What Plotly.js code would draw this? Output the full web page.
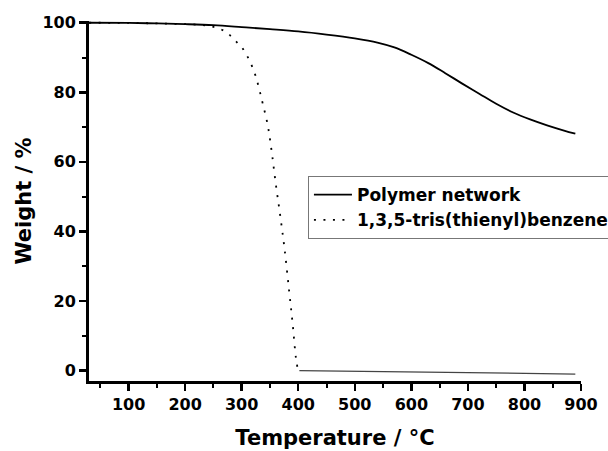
<!DOCTYPE html>
<html>
<head>
<meta charset="utf-8">
<script src="https://cdn.plot.ly/plotly-3.0.1.min.js"></script>
<style>html,body{margin:0;padding:0;background:#fff;}#chart{width:608px;height:451px;}</style>
</head>
<body>
<div id="chart"></div>
<script>
// Polymer network TGA curve
var polyT = [30, 100, 150, 200, 250, 300, 350, 400, 450, 500, 540, 570, 600, 630, 660, 690, 720, 750, 780, 810, 840, 870, 890];
var polyW = [100, 99.95, 99.8, 99.6, 99.3, 98.75, 98.15, 97.5, 96.6, 95.5, 94.3, 92.9, 90.8, 88.4, 85.5, 82.5, 79.6, 76.7, 74.2, 72.2, 70.5, 69.0, 68.1];

// 1,3,5-tris(thienyl)benzene TGA curve (decomposition part)
var tbT = [30, 100, 150, 200, 226, 245, 261, 275, 284, 292, 299, 306, 313, 319, 325, 331, 337, 346, 353, 360, 368, 376, 384, 390, 396, 399];
var tbW = [100, 99.95, 99.8, 99.6, 99.4, 99.0, 98.3, 97.0, 95.6, 94.3, 93.2, 91.5, 89.4, 87.2, 84.5, 80.9, 76.9, 70.6, 63.0, 54.0, 44.7, 34.7, 22.7, 13.6, 3.5, 0.6];

// residue after decomposition
var tbTailT = [402, 450, 500, 550, 600, 650, 700, 750, 800, 850, 890];
var tbTailW = [0.0, -0.1, -0.2, -0.3, -0.45, -0.55, -0.65, -0.75, -0.85, -0.95, -1.0];

var seriesNames = ["Polymer network", "1,3,5-tris(thienyl)benzene"];
var xTicks = [100, 200, 300, 400, 500, 600, 700, 800, 900];
var yTicks = [0, 20, 40, 60, 80, 100];

var FONT = "DejaVu Sans, Liberation Sans, Arial, sans-serif";

var traces = [
  {x: polyT, y: polyW, name: seriesNames[0], mode: "lines",
   line: {color: "#000", width: 1.8, shape: "spline"}},
  {x: tbT, y: tbW, name: seriesNames[1], mode: "lines",
   line: {color: "#000", width: 1.8, dash: "2px,7.5px", shape: "spline"}},
  {x: tbTailT, y: tbTailW, name: seriesNames[1], mode: "lines", showlegend: false,
   line: {color: "#444", width: 1.3}}
];

var layout = {
  width: 608, height: 451,
  margin: {l: 89, r: 27, t: 21, b: 70, autoexpand: false},
  paper_bgcolor: "#fff", plot_bgcolor: "#fff",
  showlegend: true,
  font: {family: FONT, color: "#000"},
  xaxis: {
    range: [30, 900], tickmode: "array", tickvals: xTicks,
    showgrid: false, zeroline: false,
    showline: true, linecolor: "#000", linewidth: 3,
    ticks: "outside", ticklen: 7, tickwidth: 2.5, tickcolor: "#000",
    minor: {dtick: 50, tick0: 0, ticks: "outside", ticklen: 4, tickwidth: 2, tickcolor: "#000", showgrid: false},
    tickfont: {family: FONT, size: 16, weight: "bold", color: "#000"},
    title: {text: "Temperature / °C", font: {family: FONT, size: 21, weight: "bold", color: "#000"}, standoff: 18},
    automargin: false
  },
  yaxis: {
    range: [-3, 100.5], tickmode: "array", tickvals: yTicks,
    showgrid: false, zeroline: false,
    showline: true, linecolor: "#000", linewidth: 3,
    ticks: "outside", ticklen: 7, tickwidth: 2.5, tickcolor: "#000",
    minor: {dtick: 10, tick0: 0, ticks: "outside", ticklen: 4, tickwidth: 2, tickcolor: "#000", showgrid: false},
    tickfont: {family: FONT, size: 16, weight: "bold", color: "#000"},
    title: {text: "Weight / %", font: {family: FONT, size: 21, weight: "bold", color: "#000"}, standoff: 6},
    automargin: false
  },
  legend: {
    x: 0.445, y: 0.569, xanchor: "left", yanchor: "top",
    bgcolor: "#fff", bordercolor: "#777", borderwidth: 1,
    font: {family: FONT, size: 17, weight: "bold", color: "#000"},
    itemwidth: 38,
    tracegroupgap: 0
  }
};

Plotly.newPlot("chart", traces, layout, {staticPlot: true, displayModeBar: false});
</script>
</body>
</html>
